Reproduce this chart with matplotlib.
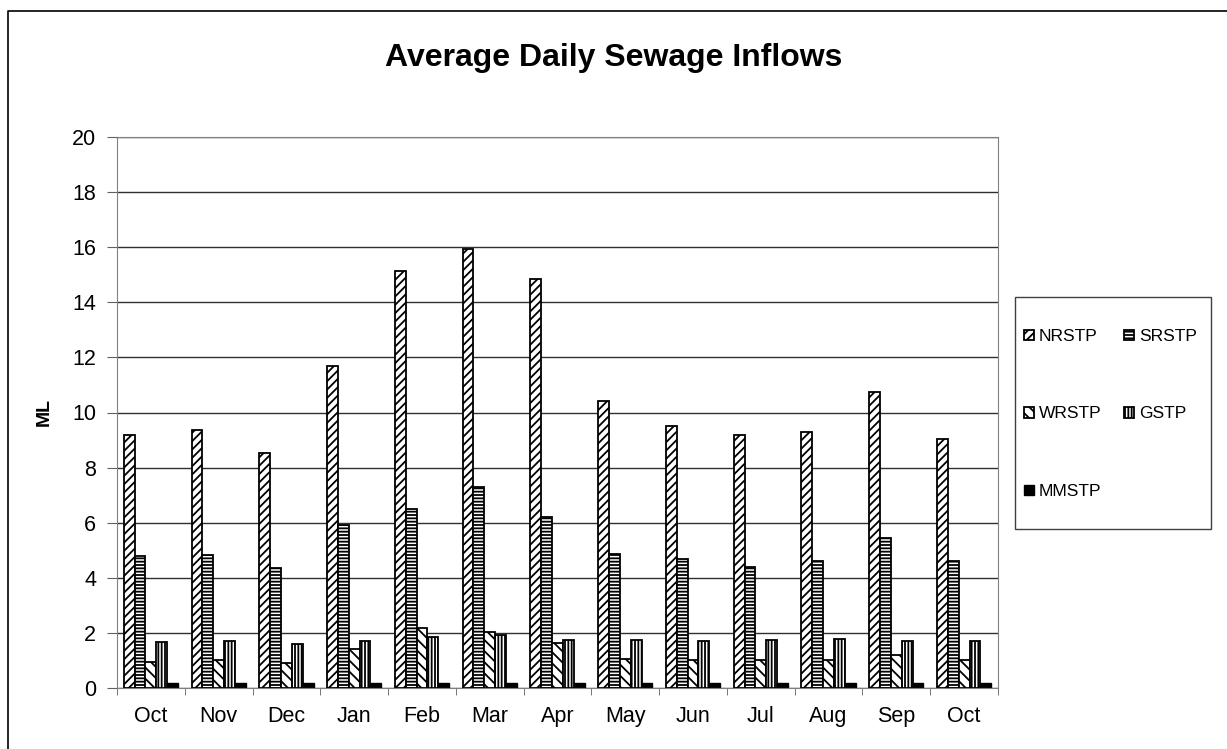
import numpy as np
import matplotlib.pyplot as plt
from matplotlib.patches import Rectangle
from matplotlib.lines import Line2D

plt.rcParams['font.family'] = ['Liberation Sans', 'DejaVu Sans']
plt.rcParams['hatch.linewidth'] = 1.3

months = ['Oct', 'Nov', 'Dec', 'Jan', 'Feb', 'Mar', 'Apr', 'May', 'Jun', 'Jul', 'Aug', 'Sep', 'Oct']
nrstp = [9.18, 9.36, 8.52, 11.7, 15.12, 15.92, 14.83, 10.43, 9.5, 9.2, 9.3, 10.75, 9.02]
srstp = [4.79, 4.82, 4.37, 5.9, 6.5, 7.31, 6.22, 4.86, 4.67, 4.4, 4.6, 5.45, 4.6]
wrstp = [0.95, 1.02, 0.92, 1.4, 2.16, 2.04, 1.62, 1.05, 1.0, 1.0, 1.0, 1.2, 1.0]
gstp = [1.66, 1.69, 1.59, 1.7, 1.84, 1.92, 1.74, 1.75, 1.72, 1.75, 1.77, 1.7, 1.72]
mmstp = [0.17, 0.17, 0.17, 0.17, 0.17, 0.17, 0.17, 0.17, 0.17, 0.17, 0.17, 0.17, 0.17]

series = [
    ('NRSTP', nrstp, '////'),
    ('SRSTP', srstp, '-----'),
    ('WRSTP', wrstp, '\\\\\\'),
    ('GSTP', gstp, '|||||'),
    ('MMSTP', mmstp, None),
]

W, H = 1227, 749
fig = plt.figure(figsize=(W / 100, H / 100), dpi=100)

# outer chart border (only left/top edges fall inside the image)
fig.add_artist(Line2D([8 / W, 8 / W, 1.0], [0.0, 1 - 11 / H, 1 - 11 / H],
                      transform=fig.transFigure, color='black', linewidth=1.2))

ax = fig.add_axes([117 / W, 61 / H, 881 / W, 551 / H])

x = np.arange(len(months))
w = 0.16
handles = {}
for i, (name, vals, hatch) in enumerate(series):
    if hatch is None:
        b = ax.bar(x + (i - 2) * w, vals, w, color='black', edgecolor='black', linewidth=1.0, label=name)
    else:
        b = ax.bar(x + (i - 2) * w, vals, w, color='white', edgecolor='black', hatch=hatch,
                   linewidth=1.3, label=name)
    handles[name] = b

ax.set_xlim(-0.5, len(months) - 0.5)
ax.set_ylim(0, 20)
ax.set_yticks(np.arange(0, 21, 2))
ax.yaxis.grid(True, color='#303030', linewidth=1.0)
ax.set_axisbelow(True)
ax.set_xticks(x)
ax.set_xticklabels(months)
ax.set_xticks(np.arange(-0.5, len(months)), minor=True)
ax.tick_params(axis='x', which='major', length=0, labelsize=15.5, pad=13)
ax.tick_params(axis='x', which='minor', length=5, color='#606060', direction='out')
ax.tick_params(axis='y', length=7, color='#606060', labelsize=15.5, pad=8)
for s in ax.spines.values():
    s.set_color('#808080')
ax.set_ylabel('ML', fontsize=14, fontweight='bold')
ax.yaxis.set_label_coords(-(117 - 53) / 881, 0.5)

fig.text(0.5, 1 - 66 / H, 'Average Daily Sewage Inflows', ha='center', va='baseline',
         fontsize=23, fontweight='bold')

# legend frame drawn separately
fig.patches.append(Rectangle((1015 / W, 1 - 529 / H), 196 / W, 232 / H, transform=fig.transFigure,
                             fill=False, edgecolor='#404040', linewidth=1.0))
order = ['NRSTP', 'WRSTP', 'MMSTP', 'SRSTP', 'GSTP']
leg = fig.legend([handles[n] for n in order], order, ncol=2, loc='upper left',
                 bbox_to_anchor=(1024 / W, 1 - 329 / H), fontsize=12.5, frameon=False,
                 handlelength=0.55, handleheight=0.55, handletextpad=0.3,
                 labelspacing=3.6, columnspacing=1.3, borderpad=0, borderaxespad=0)

fig.savefig('out.png', dpi=100)
